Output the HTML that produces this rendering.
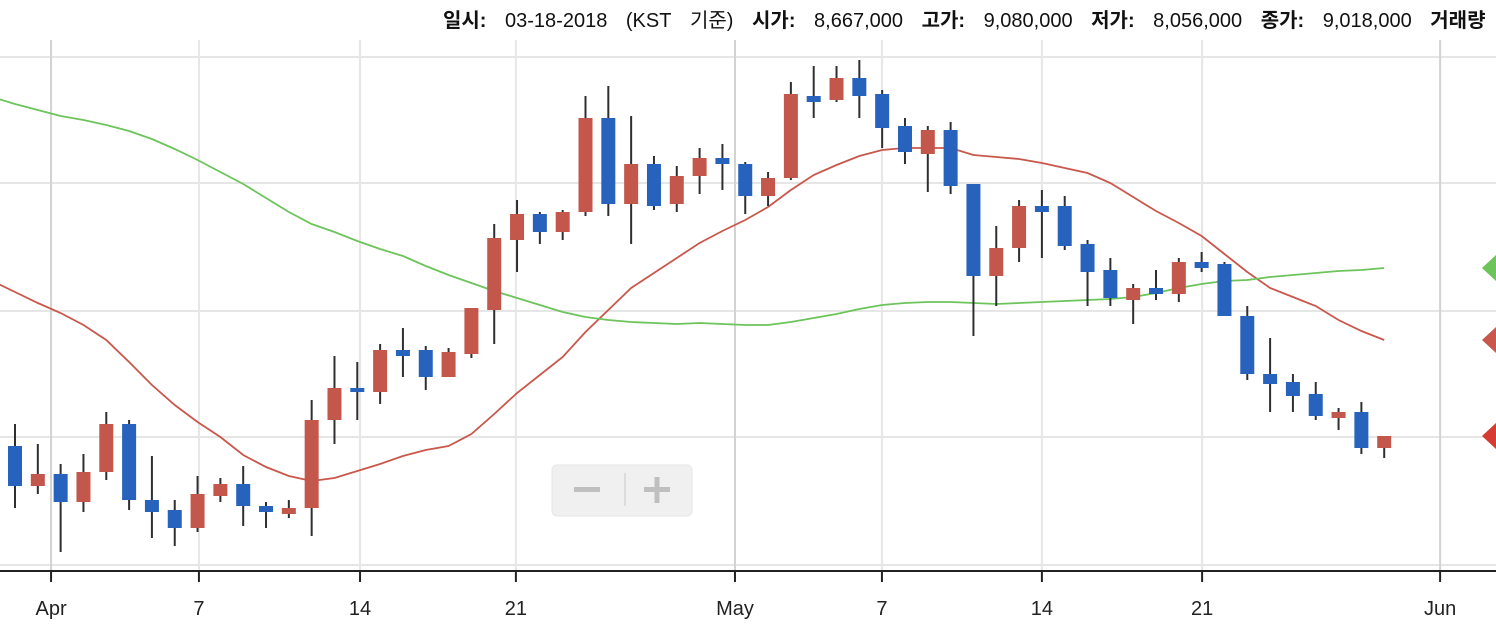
<!DOCTYPE html>
<html><head><meta charset="utf-8"><style>
html,body{margin:0;padding:0;background:#fff;width:1496px;height:630px;overflow:hidden}
svg{display:block}
.hdr{font-family:"Liberation Sans","Noto Sans CJK KR",sans-serif;font-size:20px;fill:#111;word-spacing:13px}
.ax{font-family:"Liberation Sans",sans-serif;font-size:20px;fill:#222}
</style></head><body>
<svg id="c" width="1496" height="630">
  <text class="hdr" x="443" y="27"><tspan font-weight="bold">일시:</tspan> 03-18-2018&#160;(KST&#160;기준) <tspan font-weight="bold">시가:</tspan> 8,667,000 <tspan font-weight="bold">고가:</tspan> 9,080,000 <tspan font-weight="bold">저가:</tspan> 8,056,000 <tspan font-weight="bold">종가:</tspan> 9,018,000 <tspan font-weight="bold">거래량</tspan></text>
  <g id="grid"></g><g id="ma"></g><g id="candles"></g><g id="axis"></g><g id="markers"></g>
  <g>
    <rect x="552" y="465" width="140" height="51" rx="5" fill="#f0f0f0" stroke="#e6e6e6"/>
    <line x1="625" y1="473" x2="625" y2="506" stroke="#d6d6d6" stroke-width="1.5"/>
    <g><rect x="555" y="468" width="66" height="45" fill="transparent"/><rect x="574" y="487" width="26" height="5" fill="#bfbfbf"/></g>
    <g><rect x="629" y="468" width="60" height="45" fill="transparent"/><rect x="644" y="487" width="26" height="5" fill="#bfbfbf"/><rect x="654.5" y="477" width="5" height="26" fill="#bfbfbf"/></g>
  </g>
</svg>
<script>
// prices in units of 10,000 KRW (만원)
const opens  = [884,844,856,828,858,906,830,820,802,834,846,824,816,822,910,942,938,980,980,953,976,1020,1090,1116,1098,1118,1212,1126,1166,1126,1154,1172,1166,1134,1152,1234,1230,1252,1236,1204,1176,1200,1146,1054,1082,1124,1124,1086,1060,1030,1042,1036,1068,1066,1014,956,948,936,912,918,882];
const highs  = [906,886,866,876,918,910,874,830,854,852,864,828,830,930,974,968,986,1002,984,982,1022,1106,1130,1118,1120,1234,1244,1214,1174,1164,1182,1186,1168,1158,1248,1264,1264,1270,1240,1212,1204,1208,1146,1104,1130,1140,1134,1090,1072,1046,1060,1072,1078,1068,1024,992,956,948,922,928,894];
const lows   = [822,836,778,818,850,820,792,784,798,828,804,802,812,794,886,910,926,953,940,953,972,986,1058,1086,1090,1114,1114,1086,1120,1118,1136,1140,1116,1124,1150,1212,1228,1212,1182,1166,1138,1136,994,1024,1068,1072,1080,1024,1024,1006,1030,1028,1058,1014,950,918,918,910,900,876,872];
const closes = [844,856,828,858,906,830,818,802,836,846,824,818,822,910,942,938,980,974,953,978,1022,1092,1116,1098,1118,1212,1126,1166,1124,1154,1172,1166,1134,1152,1236,1228,1252,1234,1202,1178,1200,1144,1054,1082,1124,1118,1084,1058,1032,1042,1036,1068,1062,1014,956,946,934,914,918,882,894];
// moving averages, starting at index -1
const maShort = [1049,1038,1027,1017,1005,990,968,945,925,908,893,875,863,854,849,852,859,866,874,880,884,896,916,937,955,973,998,1020,1042,1057,1072,1087,1099,1110,1123,1140,1155,1165,1174,1180,1182,1182,1182,1175,1173,1171,1167,1162,1157,1147,1133,1119,1107,1094,1076,1058,1042,1033,1024,1010,999,990];
const maLong  = [1233,1226,1220,1214,1210,1205,1199,1191,1181,1170,1158,1146,1132,1118,1106,1098,1089,1081,1074,1064,1055,1047,1039,1032,1025,1018,1013,1010,1008,1007,1006,1007,1006,1005,1005,1008,1012,1016,1021,1025,1027,1028,1028,1027,1026,1027,1028,1029,1030,1031,1033,1037,1042,1046,1049,1050,1053,1055,1057,1059,1060,1062];
const gridValues = [765,893,1019,1147,1273];
const tickLabels = ["Apr","7","14","21","May","7","14","21","Jun"];
const tickIdx = [1.58,8.06,15.12,21.95,31.55,37.99,45.0,52.02,62.45];
const monthTick = [true,false,false,false,true,false,false,false,true];

const NS="http://www.w3.org/2000/svg";
const X = i => 15 + i*22.82;
const Y = v => 1330 - v;
function mk(tag, attrs, parent){const e=document.createElementNS(NS,tag);for(const k in attrs)e.setAttribute(k,attrs[k]);parent.appendChild(e);return e;}
const grid=document.getElementById('grid'), axis=document.getElementById('axis');
gridValues.forEach(v=>{
  const l=mk('line',{x1:0,x2:1496,y1:Y(v),y2:Y(v),stroke:'#e6e6e6','stroke-width':2},grid);
  
  
});
tickIdx.forEach((t,k)=>{
  const x=X(t);
  const g=mk('line',{x1:x,x2:x,y1:40,y2:571,stroke:monthTick[k]?'#d2d2d2':'#e6e6e6','stroke-width':2},grid);
  
  
  const tk=mk('line',{x1:x,x2:x,y1:571,y2:582,stroke:'#222','stroke-width':2},axis);
  
  
  const tx=mk('text',{x:x,y:615,'text-anchor':'middle',class:'ax'},axis);
  tx.textContent=tickLabels[k];
  
  
});
const base=mk('line',{x1:0,x2:1496,y1:571,y2:571,stroke:'#222','stroke-width':2},axis);



const ma=document.getElementById('ma');
function line(arr,color,name){
  const pts=arr.map((v,i)=>X(i-1)+','+Y(v)).join(' ');
  const p=mk('polyline',{points:pts,fill:'none',stroke:color,'stroke-width':1.8},ma);
  
  
}
line(maShort,'#c9574b','ma-short-line');
line(maLong,'#6cc45b','ma-long-line');

const cg=document.getElementById('candles');
closes.forEach((c,i)=>{
  const o=opens[i],x=X(i),up=c>=o;
  const g=mk('g',{},cg);
  
  
  mk('line',{x1:x,x2:x,y1:Y(highs[i]),y2:Y(lows[i]),stroke:'#2d3033','stroke-width':2},g);
  const top=Y(Math.max(o,c)),h=Math.max(Math.abs(o-c),4);
  mk('rect',{x:x-7,y:top,width:14,height:h,fill:up?'#c4574b':'#2762bd'},g);
});

const mg=document.getElementById('markers');
[[maLong[maLong.length-1],'#6cc45b','ma-long-marker'],[maShort[maShort.length-1],'#c9574b','ma-short-marker'],[closes[closes.length-1],'#d63a32','last-price-marker']].forEach(([v,col,name])=>{
  const y=Y(v);
  const p=mk('polygon',{points:`1482,${y} 1496,${y-13} 1496,${y+13}`,fill:col},mg);
  
  
});
</script>
</body></html>
